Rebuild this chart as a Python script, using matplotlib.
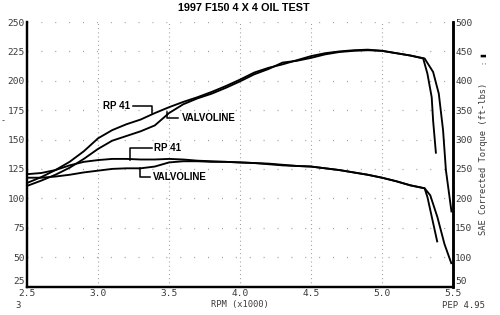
import matplotlib
matplotlib.use("Agg")
import matplotlib.pyplot as plt

plt.rcParams['lines.scale_dashes'] = False

# ---------------- data ----------------
rpm_base = [2.5, 2.6, 2.7, 2.8, 2.9, 3.0, 3.1, 3.2, 3.3, 3.4, 3.5, 3.6, 3.7, 3.8, 3.9,
            4.0, 4.1, 4.2, 4.3, 4.4, 4.5, 4.6, 4.7, 4.8, 4.9, 5.0, 5.1, 5.2]

# Horsepower (left axis)
hp_rp41_rpm = rpm_base + [5.30, 5.36, 5.40, 5.43, 5.45, 5.49]
hp_rp41 = [113, 118, 124, 131, 140, 151, 158, 163, 167, 172.5, 177.5, 182, 186, 190.5, 195.5,
           201, 207, 211, 214, 217.5, 221, 223.5, 225, 226, 226.5, 225.5, 223.5, 221.5,
           219, 207.5, 189, 158, 124, 88]

hp_valv_rpm = rpm_base + [5.29, 5.32, 5.35, 5.36, 5.38]
hp_valv = [110.5, 115, 120, 126, 133.5, 142, 149, 153, 157, 162, 172.5, 180, 185, 189, 194,
           199.5, 205.5, 210, 215.5, 217, 219.5, 222.5, 224.5, 225.5, 226, 225.5, 223.5, 221.5,
           219, 206, 186, 166, 138]

# Torque, ft-lbs (right axis)
tq_rp41_rpm = rpm_base + [5.30, 5.34, 5.39, 5.44, 5.49]
tq_rp41 = [241, 243, 248, 256, 262, 265, 267, 267, 266, 266, 267, 266, 264, 263, 262,
           261, 260, 259, 257, 255, 254, 251, 248, 244, 240, 235, 229, 222,
           217, 205, 168, 122, 88]

tq_valv_rpm = rpm_base + [5.30, 5.32, 5.39]
tq_valv = [235, 235, 237, 240, 244, 247, 250, 251, 251, 254, 261, 263, 263, 262, 262,
           261, 260, 258, 256, 255, 254, 251, 248, 244, 240, 235, 229, 222,
           217, 202, 125]

x_ticks = [2.5, 3.0, 3.5, 4.0, 4.5, 5.0, 5.5]
x_ticklabels = ["2.5", "3.0", "3.5", "4.0", "4.5", "5.0", "5.5"]
hp_ticks = [25, 50, 75, 100, 125, 150, 175, 200, 225, 250]
tq_ticks = [50, 100, 150, 200, 250, 300, 350, 400, 450, 500]

# ---------------- figure ----------------
fig = plt.figure(figsize=(5.0, 3.15), dpi=100)
ax = fig.add_axes([0.054, 0.089, 0.852, 0.841])
ax2 = ax.twinx()

mono = "DejaVu Sans Mono"
tick_col = "#3a3a3a"

ax.set_xlim(2.5, 5.5)
ax.set_ylim(24.5, 250)
ax2.set_ylim(49, 500)

# grid (dotted)
for xv in x_ticks[1:-1]:
    ax.axvline(xv, color="#9a9a9a", lw=0.8, ls=(0, (0.7, 2.3)), zorder=0)
for yv in hp_ticks[1:]:
    ax.axhline(yv, color="#9a9a9a", lw=0.9, ls=(0, (0.7, 9.3)), zorder=0)

lw = 1.35
ax.plot(hp_rp41_rpm, hp_rp41, color="black", lw=lw, solid_capstyle="butt")
ax.plot(hp_valv_rpm, hp_valv, color="black", lw=lw, solid_capstyle="butt")
ax2.plot(tq_rp41_rpm, tq_rp41, color="black", lw=lw, solid_capstyle="butt")
ax2.plot(tq_valv_rpm, tq_valv, color="black", lw=lw, solid_capstyle="butt")

# spines
for a in (ax, ax2):
    a.spines["top"].set_visible(False)
    a.spines["left"].set_linewidth(1.6)
    a.spines["bottom"].set_linewidth(1.6)
    a.spines["right"].set_linewidth(1.8)

ax.set_xticks(x_ticks)
ax.set_xticklabels(x_ticklabels, family=mono, fontsize=6.8, color=tick_col)
ax.set_yticks(hp_ticks)
ax.set_yticklabels([str(v) for v in hp_ticks], family=mono, fontsize=6.8, color=tick_col)
ax2.set_yticks(tq_ticks)
ax2.set_yticklabels([str(v) for v in tq_ticks], family=mono, fontsize=6.8, color=tick_col)
ax.tick_params(axis="both", length=0, pad=1.5)
ax2.tick_params(axis="y", length=0, pad=1.5)
# lowest y labels sit just above the axis line, as in the original
ax.get_yticklabels()[0].set_va("bottom")
ax2.get_yticklabels()[0].set_va("bottom")

# annotations
bold = dict(family="Liberation Sans", fontweight="bold", fontsize=7, color="black")
alw = 1.1
# upper RP 41
ax.plot([3.246, 3.38, 3.38], [178.5, 178.5, 172.6], color="black", lw=alw)
ax.text(3.225, 178.5, "RP 41", ha="right", va="center", **bold)
# upper VALVOLINE
ax.plot([3.486, 3.486, 3.563], [173.4, 168.3, 168.3], color="black", lw=alw)
ax.text(3.59, 168.3, "VALVOLINE", ha="left", va="center", **bold)
# lower RP 41
ax.plot([3.225, 3.225, 3.38], [132.6, 142.8, 142.8], color="black", lw=alw)
ax.text(3.394, 142.8, "RP 41", ha="left", va="center", **bold)
# lower VALVOLINE
ax.plot([3.296, 3.296, 3.366], [125.7, 118.1, 118.1], color="black", lw=alw)
ax.text(3.387, 118.1, "VALVOLINE", ha="left", va="center", **bold)

# titles / labels
fig.text(244 / 500, 1 - 8 / 315, "1997 F150 4 X 4 OIL TEST", ha="center", va="center",
         family="Liberation Sans", fontweight="bold", fontsize=7.8)
fig.text(240 / 500, 1 - 305 / 315, "RPM (x1000)", ha="center", va="center",
         family=mono, fontsize=6.3, color=tick_col)
fig.text(18 / 500, 1 - 305 / 315, "3", ha="center", va="center",
         family=mono, fontsize=6.5, color=tick_col)
fig.text(463 / 500, 1 - 306 / 315, "PEP 4.95", ha="center", va="center",
         family=mono, fontsize=6.5, color=tick_col)
fig.text(484 / 500, 1 - 159 / 315, "SAE Corrected Torque (ft-lbs)", ha="center", va="center",
         rotation=90, family=mono, fontsize=6.3, color=tick_col)
fig.text(483 / 500, 1 - 55 / 315, "\u25AE", ha="center", va="center",
         rotation=90, family="DejaVu Sans", fontsize=5, color="black")
fig.text(483 / 500, 1 - 62 / 315, ":", ha="center", va="center",
         rotation=90, family=mono, fontsize=5, color="#555555")
fig.text(3 / 500, 1 - 121 / 315, "-", ha="center", va="center",
         family=mono, fontsize=6, color=tick_col)

fig.savefig("out.png", dpi=100)
